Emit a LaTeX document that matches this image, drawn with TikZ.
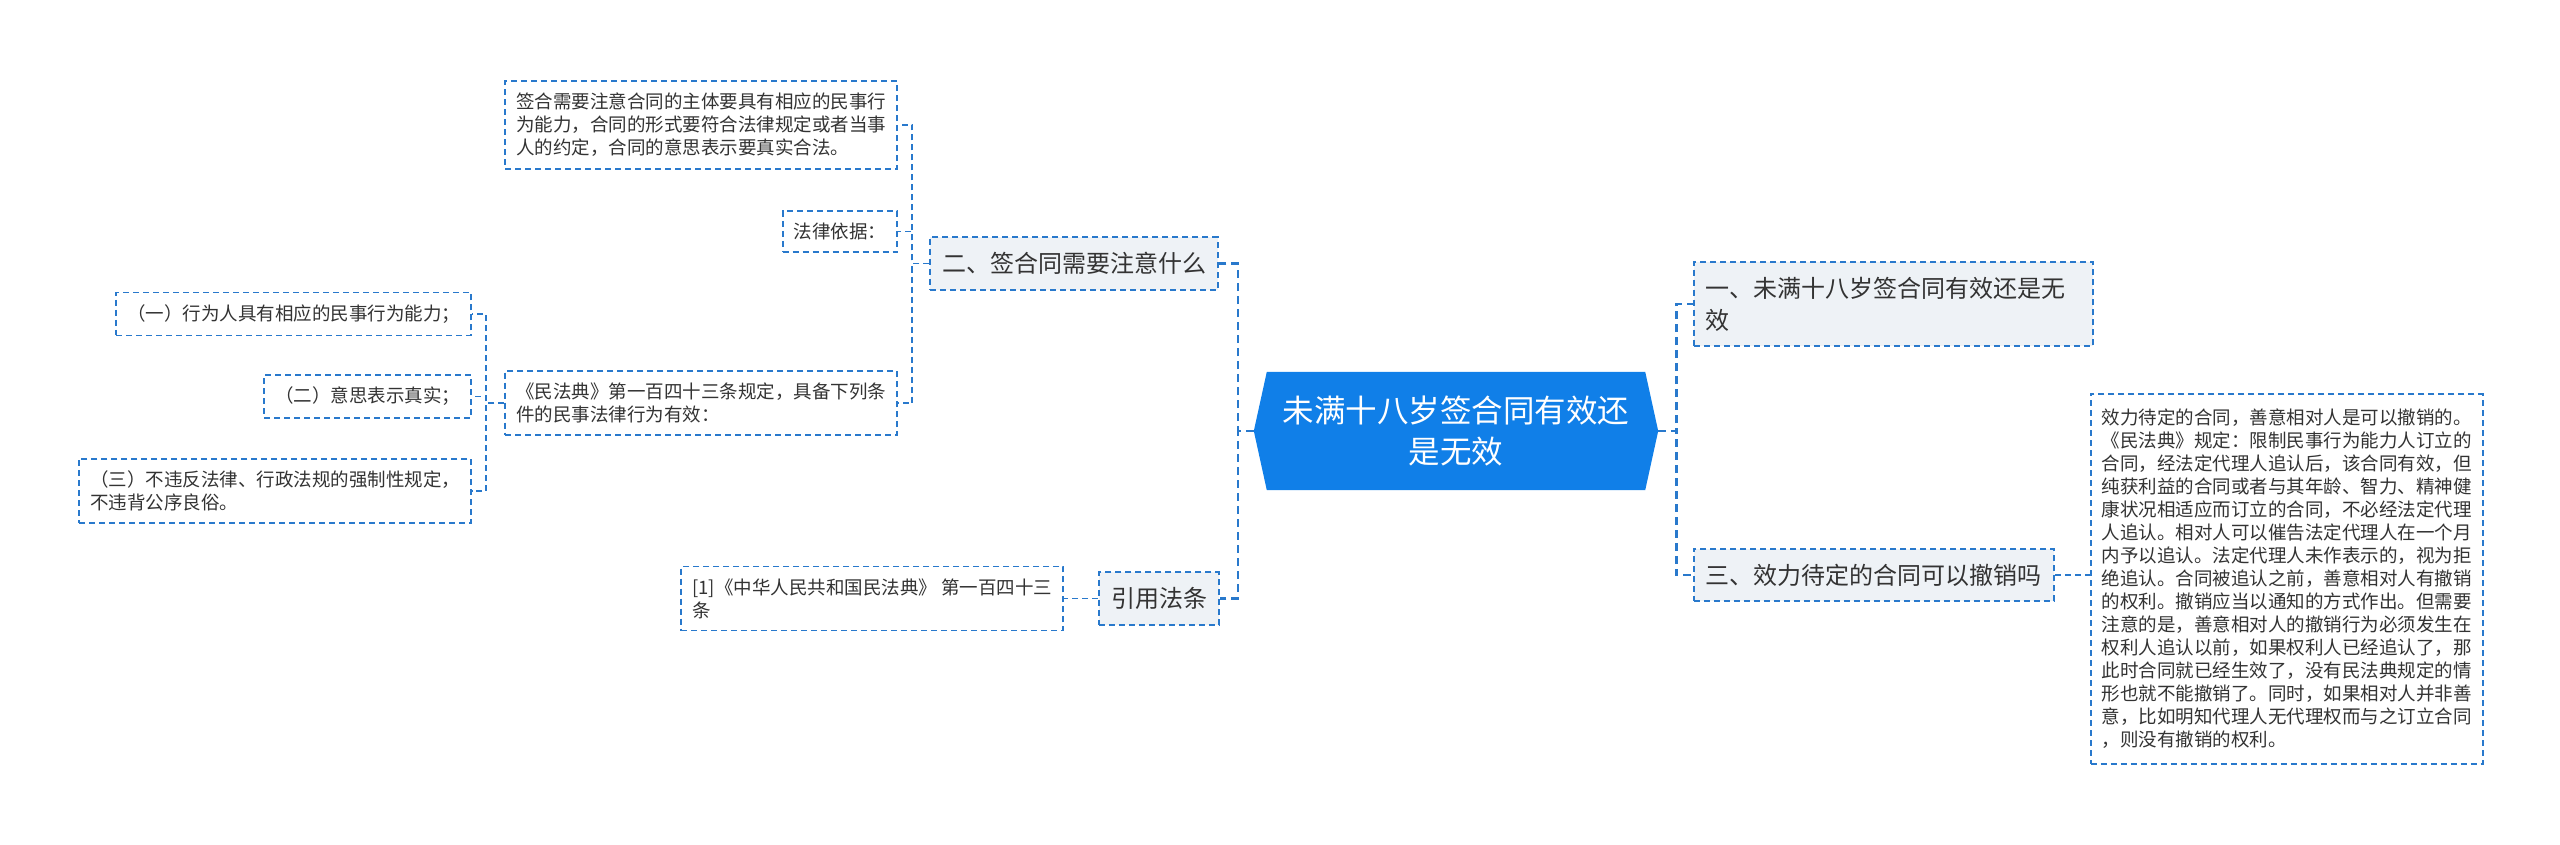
\documentclass[tikz,border=0pt]{standalone}
\usepackage{fontspec}
\setmainfont{Noto Sans CJK SC}
\usepackage{tikz}
\usetikzlibrary{positioning,backgrounds}
\definecolor{linkblue}{RGB}{41,121,204}
\definecolor{rootblue}{RGB}{16,127,232}
\definecolor{topicbg}{RGB}{238,242,246}
\definecolor{txt}{RGB}{51,51,51}
\tikzset{
  box/.style={draw=linkblue,line width=1.8pt,dash pattern=on 6pt off 4pt,align=left,text=txt,inner xsep=11pt},
  leaf/.style={box,fill=white,inner ysep=12pt,font=\fontsize{18.5pt}{23pt}\selectfont},
  topic/.style={box,fill=topicbg,inner xsep=12pt,inner ysep=15pt,font=\fontsize{24pt}{32pt}\selectfont},
  hub/.style={align=center,text=white,minimum width=404pt,minimum height=118pt,font=\fontsize{31.5pt}{41pt}\selectfont},
  ln/.style={draw=linkblue,line width=1.8pt,dash pattern=on 6pt off 4pt},
  mainln/.style={ln,line width=2.6pt,dash pattern=on 8pt off 5pt},
}

\begin{document}
\begin{tikzpicture}[x=1pt,y=-1pt]
  \useasboundingbox (0,0) rectangle (2560,845);
  \node[hub] (root) at (1456,431) {未满十八岁签合同有效还\\是无效};
  \begin{scope}[on background layer]
    \fill[rootblue] (root.west) -- ([xshift=13pt]root.north west) -- ([xshift=-13pt]root.north east)
      -- (root.east) -- ([xshift=-13pt]root.south east) -- ([xshift=13pt]root.south west) -- cycle;
  \end{scope}
  \node[topic,anchor=east] (b2) at (1219,263.5) {二、签合同需要注意什么};
  \node[topic,anchor=east] (b4) at (1220,598.5) {引用法条};
  \node[topic,anchor=west,text width=375pt] (b1) at (1693,304) {一、未满十八岁签合同有效还是无\\效};
  \node[topic,anchor=west] (b3) at (1693,575) {三、效力待定的合同可以撤销吗};
  \node[leaf,anchor=east] (la) at (898,125) {签合需要注意合同的主体要具有相应的民事行\\为能力，合同的形式要符合法律规定或者当事\\人的约定，合同的意思表示要真实合法。};
  \node[leaf,anchor=east] (lb) at (898,231.5) {法律依据：};
  \node[leaf,anchor=east] (lc) at (898,403) {《民法典》第一百四十三条规定，具备下列条\\件的民事法律行为有效：};
  \node[leaf,anchor=east] (lc1) at (472,314) {（一）行为人具有相应的民事行为能力；};
  \node[leaf,anchor=east] (lc2) at (472,396.5) {（二）意思表示真实；};
  \node[leaf,anchor=east] (lc3) at (472,491) {（三）不违反法律、行政法规的强制性规定，\\不违背公序良俗。};
  \node[leaf,left=34pt of b4] (ld) {[1]《中华人民共和国民法典》 第一百四十三\\条};
  \node[leaf,right=35pt of b3,inner ysep=15pt,yshift=-4pt] (le) {效力待定的合同，善意相对人是可以撤销的。\\《民法典》规定：限制民事行为能力人订立的\\合同，经法定代理人追认后，该合同有效，但\\纯获利益的合同或者与其年龄、智力、精神健\\康状况相适应而订立的合同，不必经法定代理\\人追认。相对人可以催告法定代理人在一个月\\内予以追认。法定代理人未作表示的，视为拒\\绝追认。合同被追认之前，善意相对人有撤销\\的权利。撤销应当以通知的方式作出。但需要\\注意的是，善意相对人的撤销行为必须发生在\\权利人追认以前，如果权利人已经追认了，那\\此时合同就已经生效了，没有民法典规定的情\\形也就不能撤销了。同时，如果相对人并非善\\意，比如明知代理人无代理权而与之订立合同\\，则没有撤销的权利。};
  \draw[mainln] (root.west) -- ++(-16,0) |- (b2.east);
  \draw[mainln] (root.west) -- ++(-16,0) |- (b4.east);
  \draw[mainln] (root.east) -- ++(18,0) |- (b1.west);
  \draw[mainln] (root.east) -- ++(18,0) |- (b3.west);
  \draw[ln] (b2.west) -- ++(-17,0) |- (la.east);
  \draw[ln] (b2.west) -- ++(-17,0) |- (lb.east);
  \draw[ln] (b2.west) -- ++(-17,0) |- (lc.east);
  \draw[ln] (lc.west) -- ++(-18,0) |- (lc1.east);
  \draw[ln] (lc.west) -- ++(-18,0) |- (lc2.east);
  \draw[ln] (lc.west) -- ++(-18,0) |- (lc3.east);
  \draw[ln] (b4.west) -- (ld.east);
  \draw[ln] (b3.east) -- (b3.east -| le.west);
\end{tikzpicture}
\end{document}
